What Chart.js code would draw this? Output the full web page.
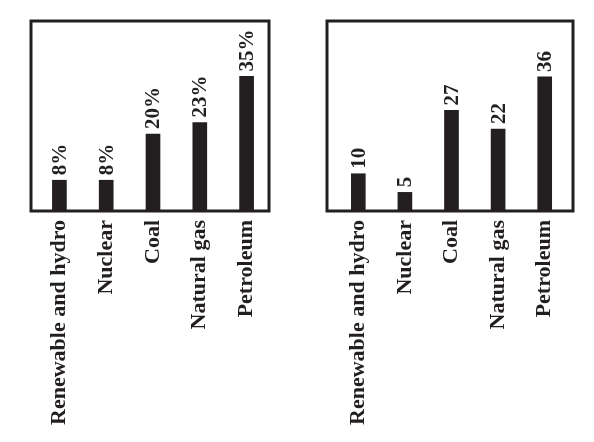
<!DOCTYPE html>
<html>
<head>
<meta charset="utf-8">
<script src="https://cdn.jsdelivr.net/npm/chart.js@4.4.1/dist/chart.umd.min.js"></script>
<style>
  html, body { margin: 0; padding: 0; background: #fff; }
  .wrap { position: absolute; top: 0; width: 297px; height: 442px; }
</style>
</head>
<body>
<div class="wrap" style="left:0"><canvas id="left"></canvas></div>
<div class="wrap" style="left:297px"><canvas id="right"></canvas></div>
<script>
// data
const categories = ["Renewable and hydro", "Nuclear", "Coal", "Natural gas", "Petroleum"];
const leftValues = [8, 8, 20, 23, 35];
const rightValues = [10, 5, 27, 22, 36];
const leftLabels = ["8%", "8%", "20%", "23%", "35%"];
const rightLabels = ["10", "5", "27", "22", "36"];

const ink = "#231f20";
const serif = "'Liberation Serif', 'Times New Roman', serif";

// frame around the plot
const boxPlugin = {
  id: "box",
  afterDatasetsDraw(chart, args, opts) {
    const a = chart.chartArea;
    const c = chart.ctx;
    c.save();
    c.strokeStyle = ink;
    c.lineWidth = 3;
    c.strokeRect(a.left - opts.extLeft, a.top, (a.right + opts.extRight) - (a.left - opts.extLeft), a.bottom - a.top);
    c.restore();
  }
};

// rotated value labels above the bars
const valuePlugin = {
  id: "values",
  afterDatasetsDraw(chart, args, opts) {
    const c = chart.ctx;
    const meta = chart.getDatasetMeta(0);
    c.save();
    c.fillStyle = ink;
    c.font = "bold 21px " + serif;
    c.textAlign = "left";
    c.textBaseline = "middle";
    meta.data.forEach((bar, i) => {
      c.save();
      c.translate(bar.x, bar.y - 5);
      c.rotate(-Math.PI / 2);
      c.fillText(opts.labels[i], 0, 1);
      c.restore();
    });
    c.restore();
  }
};

function makeChart(id, values, labels, yMax, pad, ext) {
  return new Chart(document.getElementById(id), {
    type: "bar",
    data: {
      labels: categories,
      datasets: [{
        data: values,
        backgroundColor: ink,
        borderWidth: 0,
        barThickness: 14
      }]
    },
    options: {
      responsive: true,
      maintainAspectRatio: false,
      animation: false,
      layout: { padding: { left: pad.left, right: pad.right, top: 21, bottom: 0 } },
      plugins: {
        legend: { display: false },
        tooltip: { enabled: false },
        box: ext,
        values: { labels: labels }
      },
      scales: {
        x: {
          grid: { display: false, drawTicks: false },
          border: { display: false },
          ticks: {
            color: ink,
            font: { family: serif, size: 22, weight: "bold" },
            minRotation: 90,
            maxRotation: 90,
            autoSkip: false,
            padding: 9
          },
          afterFit(scale) { scale.height = 231; }
        },
        y: {
          display: false,
          min: 0,
          max: yMax
        }
      }
    },
    plugins: [boxPlugin, valuePlugin]
  });
}

makeChart("left", leftValues, leftLabels, 49.4, { left: 36, right: 27 }, { extLeft: 5, extRight: -1 });
makeChart("right", rightValues, rightLabels, 51, { left: 38, right: 26 }, { extLeft: 8, extRight: 5 });
</script>
</body>
</html>
